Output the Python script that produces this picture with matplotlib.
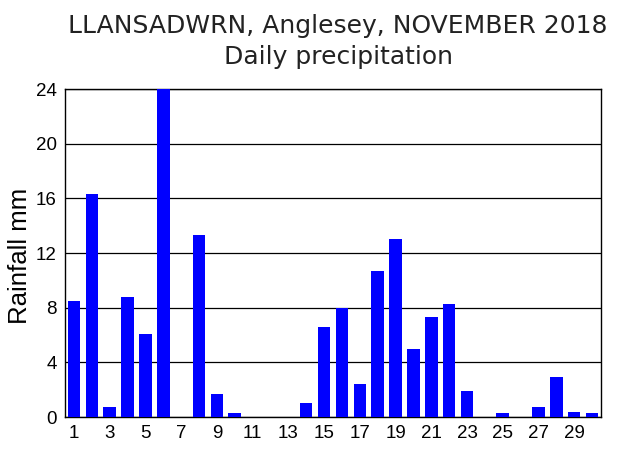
import numpy as np
import matplotlib.pyplot as plt

# daily rainfall, Llansadwrn, November 2018 (mm)
days = np.arange(1, 31)
rain_mm = [8.5, 16.3, 0.7, 8.8, 6.1, 24.0, 0.0, 13.3, 1.7, 0.3,
           0.0, 0.0, 0.0, 1.0, 6.6, 8.0, 2.4, 10.7, 13.0, 5.0,
           7.3, 8.3, 1.9, 0.0, 0.3, 0.0, 0.7, 2.9, 0.4, 0.3]
x_ticks = list(range(1, 30, 2))
y_ticks = [0, 4, 8, 12, 16, 20, 24]

fig = plt.figure(figsize=(6.33, 4.5), dpi=100)
ax = fig.add_axes([65 / 633, 1 - 417 / 450, 536 / 633, 328 / 450])

ax.set_axisbelow(True)
ax.yaxis.grid(True, color='black', linewidth=0.9)
ax.bar(days, rain_mm, width=0.7, color='#0000ff', zorder=3)

ax.set_xlim(0.5, 30.5)
ax.set_ylim(0, 24)
ax.set_xticks(x_ticks)
ax.set_yticks(y_ticks)
ax.tick_params(length=0, labelsize=13.5, pad=6)
for lbl in ax.get_xticklabels() + ax.get_yticklabels():
    lbl.set_family('Liberation Sans')
for s in ax.spines.values():
    s.set_color('black')
    s.set_linewidth(1.0)

ax.set_ylabel('Rainfall mm', family='Liberation Sans', fontsize=18.5)
# right edge of the rotated label sits ~33 px left of the axes
ax.yaxis.set_label_coords(-33 / 536, 0.49)

fig.text(338 / 633, 1 - 33 / 450, 'LLANSADWRN, Anglesey, NOVEMBER 2018',
         ha='center', va='baseline', fontsize=18, family='DejaVu Sans',
         color='#222222')
fig.text(338 / 633, 1 - 64 / 450, 'Daily precipitation',
         ha='center', va='baseline', fontsize=18, family='DejaVu Sans',
         color='#222222')

fig.savefig('out.png', dpi=100)
